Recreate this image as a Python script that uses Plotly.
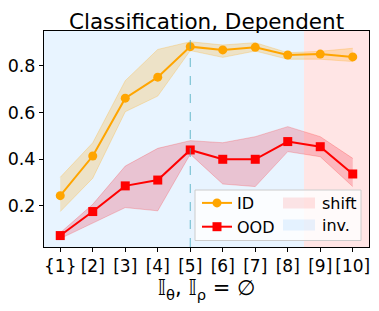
import plotly.graph_objects as go

x_pos = [1, 2, 3, 4, 5, 6, 7, 8, 9, 10]
tick_labels = ["{1}", "[2]", "[3]", "[4]", "[5]", "[6]", "[7]", "[8]", "[9]", "[10]"]

id_mean = [0.244, 0.414, 0.662, 0.752, 0.883, 0.869, 0.880, 0.847, 0.851, 0.839]
id_upper = [0.323, 0.471, 0.737, 0.871, 0.904, 0.890, 0.900, 0.857, 0.863, 0.876]
id_lower = [0.176, 0.319, 0.604, 0.671, 0.866, 0.837, 0.864, 0.829, 0.829, 0.819]

ood_mean = [0.073, 0.176, 0.286, 0.311, 0.440, 0.400, 0.400, 0.476, 0.454, 0.337]
ood_upper = [0.085, 0.207, 0.371, 0.447, 0.480, 0.471, 0.497, 0.540, 0.497, 0.404]
ood_lower = [0.060, 0.128, 0.193, 0.179, 0.422, 0.294, 0.283, 0.433, 0.411, 0.283]

inv_span = [0.5, 8.5]
shift_span = [8.5, 10.5]
y_range = [0.024, 0.95]
split_x = 5

SHIFT_COLOR = "rgba(255,0,0,0.1)"
INV_COLOR = "rgba(30,144,255,0.1)"

fig = go.Figure()

# background spans
fig.add_vrect(x0=inv_span[0], x1=inv_span[1], fillcolor=INV_COLOR, line_width=0, layer="below")
fig.add_vrect(x0=shift_span[0], x1=shift_span[1], fillcolor=SHIFT_COLOR, line_width=0, layer="below")

# ID band
fig.add_trace(go.Scatter(x=x_pos, y=id_upper, mode="lines",
                         line=dict(color="rgba(255,165,0,0.25)", width=1),
                         showlegend=False, hoverinfo="skip"))
fig.add_trace(go.Scatter(x=x_pos, y=id_lower, mode="lines", fill="tonexty",
                         fillcolor="rgba(255,165,0,0.22)",
                         line=dict(color="rgba(255,165,0,0.25)", width=1),
                         showlegend=False, hoverinfo="skip"))
# OOD band
fig.add_trace(go.Scatter(x=x_pos, y=ood_upper, mode="lines",
                         line=dict(color="rgba(255,0,0,0.2)", width=1),
                         showlegend=False, hoverinfo="skip"))
fig.add_trace(go.Scatter(x=x_pos, y=ood_lower, mode="lines", fill="tonexty",
                         fillcolor="rgba(240,0,30,0.2)",
                         line=dict(color="rgba(255,0,0,0.2)", width=1),
                         showlegend=False, hoverinfo="skip"))

fig.add_trace(go.Scatter(x=x_pos, y=id_mean, mode="lines+markers", name="ID",
                         line=dict(color="orange", width=2),
                         marker=dict(symbol="circle", size=9, color="orange")))
fig.add_trace(go.Scatter(x=x_pos, y=ood_mean, mode="lines+markers", name="OOD",
                         line=dict(color="red", width=2),
                         marker=dict(symbol="square", size=9, color="red")))

fig.add_shape(type="line", x0=split_x, x1=split_x, y0=0, y1=1, xref="x", yref="paper",
              line=dict(color="rgba(70,170,190,0.8)", width=1, dash="dash"))

# legend frame
L, B, W, H = 44, 247, 325, 216
def px(xp):
    return (xp - L) / W
def py(yp):
    return (B - yp) / H

fig.add_shape(type="rect", xref="paper", yref="paper",
              x0=px(195), x1=px(361), y0=py(240.5), y1=py(190),
              fillcolor="rgba(255,255,255,0.8)", line=dict(color="#cccccc", width=1),
              layer="above")
# patch entries for the span legend
patch_items = [("shift", SHIFT_COLOR, 203), ("inv.", INV_COLOR, 225)]
for label, color, yc in patch_items:
    fig.add_shape(type="rect", xref="paper", yref="paper",
                  x0=px(283), x1=px(315), y0=py(yc + 5.5), y1=py(yc - 5.5),
                  fillcolor=color, line_width=0, layer="above")
    fig.add_annotation(text=label, xref="paper", yref="paper", x=px(320), y=py(yc),
                       xanchor="left", yanchor="middle", showarrow=False,
                       font=dict(size=16), xshift=0)

fig.update_layout(
    width=379, height=311,
    margin=dict(l=L, r=379 - L - W, t=31, b=311 - B),
    paper_bgcolor="white", plot_bgcolor="white",
    font=dict(family="DejaVu Sans", size=17, color="black"),
    title=dict(text="Classification, Dependent", x=(206.5) / 379, xanchor="center",
               y=1 - 29 / 311, yanchor="bottom", font=dict(size=21.5)),
    xaxis=dict(range=[0.5, 10.5], tickmode="array", tickvals=x_pos, ticktext=tick_labels,
               showgrid=False, zeroline=False, showline=True, linecolor="black", mirror=True,
               ticks="outside", ticklen=4, tickcolor="black", automargin=False,
               tickfont=dict(size=17),
               title=dict(text="𝕀<sub>θ</sub>, 𝕀<sub>ρ</sub> = ∅", font=dict(size=21), standoff=2)),
    yaxis=dict(range=y_range, tickvals=[0.2, 0.4, 0.6, 0.8], ticktext=["0.2", "0.4", "0.6", "0.8"],
               showgrid=False, zeroline=False, showline=True, linecolor="black", mirror=True,
               ticks="outside", ticklen=4, tickcolor="black", automargin=False,
               tickfont=dict(size=17.5)),
    legend=dict(x=px(197), y=py(186), xanchor="left", yanchor="top",
                bgcolor="rgba(0,0,0,0)", borderwidth=0, itemwidth=30,
                font=dict(size=16), tracegroupgap=0, traceorder="normal"),
)

fig.write_html("out.html", config={"displayModeBar": False},
               post_script="document.body.style.margin='0';")
